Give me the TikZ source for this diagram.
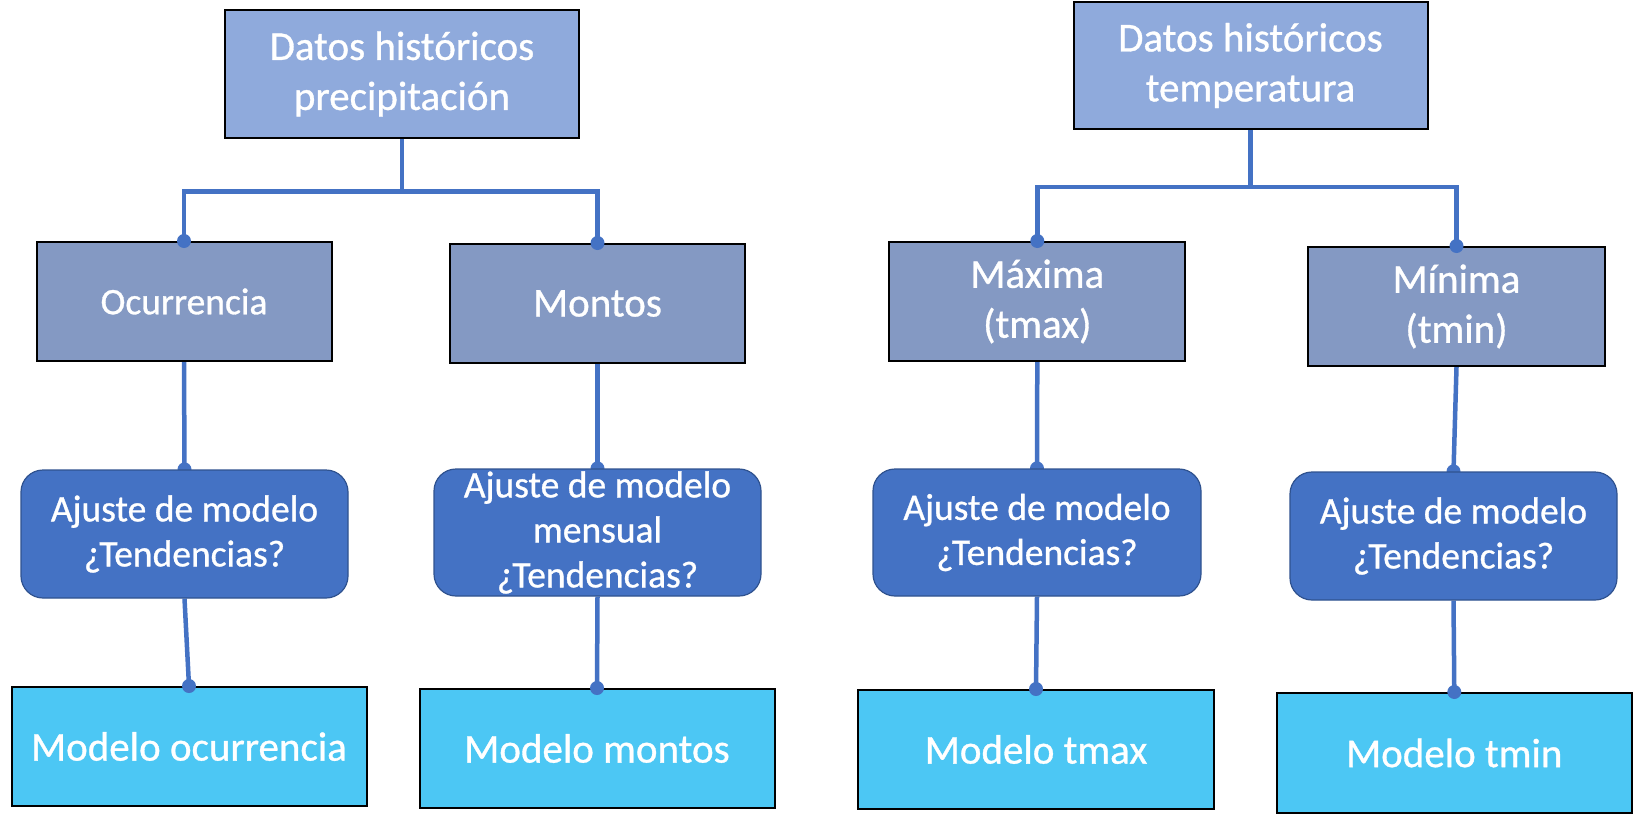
\documentclass[tikz,border=0pt]{standalone}
\usepackage{fontspec}
\setmainfont{Carlito}[FakeBold=0.8,AutoFakeBold=0.8]
\definecolor{ctop}{HTML}{8FAADC}
\definecolor{cmid}{HTML}{8499C3}
\definecolor{caj}{HTML}{4472C4}
\definecolor{cajb}{HTML}{2F528F}
\definecolor{cmod}{HTML}{4CC7F4}
\definecolor{cline}{HTML}{4472C4}
\pgfdeclarelayer{bg}
\pgfsetlayers{bg,main}
\tikzset{
  basebox/.style={rectangle, inner sep=0pt, align=center, text=white},
  topbox/.style={basebox, fill=ctop, draw=black, line width=2pt, font=\fontsize{41}{50}\selectfont\bfseries},
  midbox/.style={basebox, fill=cmid, draw=black, line width=2pt, font=\fontsize{41}{50}\selectfont\bfseries},
  ajbox/.style={basebox, fill=caj, draw=cajb, line width=1.2pt, rounded corners=22pt, font=\fontsize{37.5}{45}\selectfont\bfseries},
  modbox/.style={basebox, fill=cmod, draw=black, line width=2pt, font=\fontsize{41}{50}\selectfont\bfseries},
  conn/.style={draw=cline, line width=4.5pt},
  dotc/.style={fill=cline}
}
\begin{document}
\begin{tikzpicture}[x=1pt,y=-1pt]
\useasboundingbox (0,0) rectangle (1633,814);
% left tree
\node[topbox, minimum width=354pt, minimum height=128pt] (T1) at (402,74) {Datos históricos\\precipitación};
\node[midbox, minimum width=295pt, minimum height=119pt] (O) at (184,301.5) {\fontsize{37.5}{45}\selectfont\bfseries Ocurrencia};
\node[midbox, minimum width=295pt, minimum height=119pt] (M) at (597.5,303.5) {Montos};
\node[ajbox, minimum width=327pt, minimum height=128pt] (A1) at (184.5,534) {Ajuste de modelo\\¿Tendencias?};
\node[ajbox, minimum width=327pt, minimum height=127pt] (A2) at (597.5,532.5) {Ajuste de modelo\\mensual\\¿Tendencias?};
\node[modbox, minimum width=355pt, minimum height=119pt] (B1) at (189,746.5) {Modelo ocurrencia};
\node[modbox, minimum width=355pt, minimum height=119pt] (B2) at (597,748.5) {Modelo montos};
% right tree
\node[topbox, minimum width=354pt, minimum height=127pt] (T2) at (1250.5,65.5) {Datos históricos\\temperatura};
\node[midbox, minimum width=296pt, minimum height=119pt] (X) at (1037.3,301.5) {Máxima\\(tmax)};
\node[midbox, minimum width=297pt, minimum height=119pt] (N) at (1456.5,306.5) {Mínima\\(tmin)};
\node[ajbox, minimum width=328pt, minimum height=127pt] (A3) at (1037,532.5) {Ajuste de modelo\\¿Tendencias?};
\node[ajbox, minimum width=327pt, minimum height=128pt] (A4) at (1453.5,536) {Ajuste de modelo\\¿Tendencias?};
\node[modbox, minimum width=356pt, minimum height=119pt] (B3) at (1036,749.5) {Modelo tmax};
\node[modbox, minimum width=355pt, minimum height=120pt] (B4) at (1454.3,753) {Modelo tmin};
\coordinate (barL) at (0,191.5);
\coordinate (barR) at (0,187);
\begin{pgfonlayer}{bg}
\draw[conn] (T1.south) -- (T1.south |- barL) -| (O.north);
\draw[conn] (T1.south |- barL) -| (M.north);
\draw[conn] (T2.south) -- (T2.south |- barR) -| (X.north);
\draw[conn] (T2.south |- barR) -| (N.north);
\draw[conn] (O.south) -- (A1.north);
\draw[conn] (M.south) -- (A2.north);
\draw[conn] (X.south) -- (A3.north);
\draw[conn] (N.south) -- (A4.north);
\draw[conn] (A1.south) -- (B1.north);
\draw[conn] (A2.south) -- (B2.north);
\draw[conn] (A3.south) -- (B3.north);
\draw[conn] (A4.south) -- (B4.north);
\fill[dotc] (A1.north) circle[radius=7];
\fill[dotc] (A2.north) circle[radius=7];
\fill[dotc] (A3.north) circle[radius=7];
\fill[dotc] (A4.north) circle[radius=7];
\end{pgfonlayer}
\fill[dotc] (O.north) circle[radius=7];
\fill[dotc] (M.north) circle[radius=7];
\fill[dotc] (X.north) circle[radius=7];
\fill[dotc] (N.north) circle[radius=7];
\fill[dotc] (B1.north) circle[radius=7];
\fill[dotc] (B2.north) circle[radius=7];
\fill[dotc] (B3.north) circle[radius=7];
\fill[dotc] (B4.north) circle[radius=7];
\end{tikzpicture}
\end{document}
